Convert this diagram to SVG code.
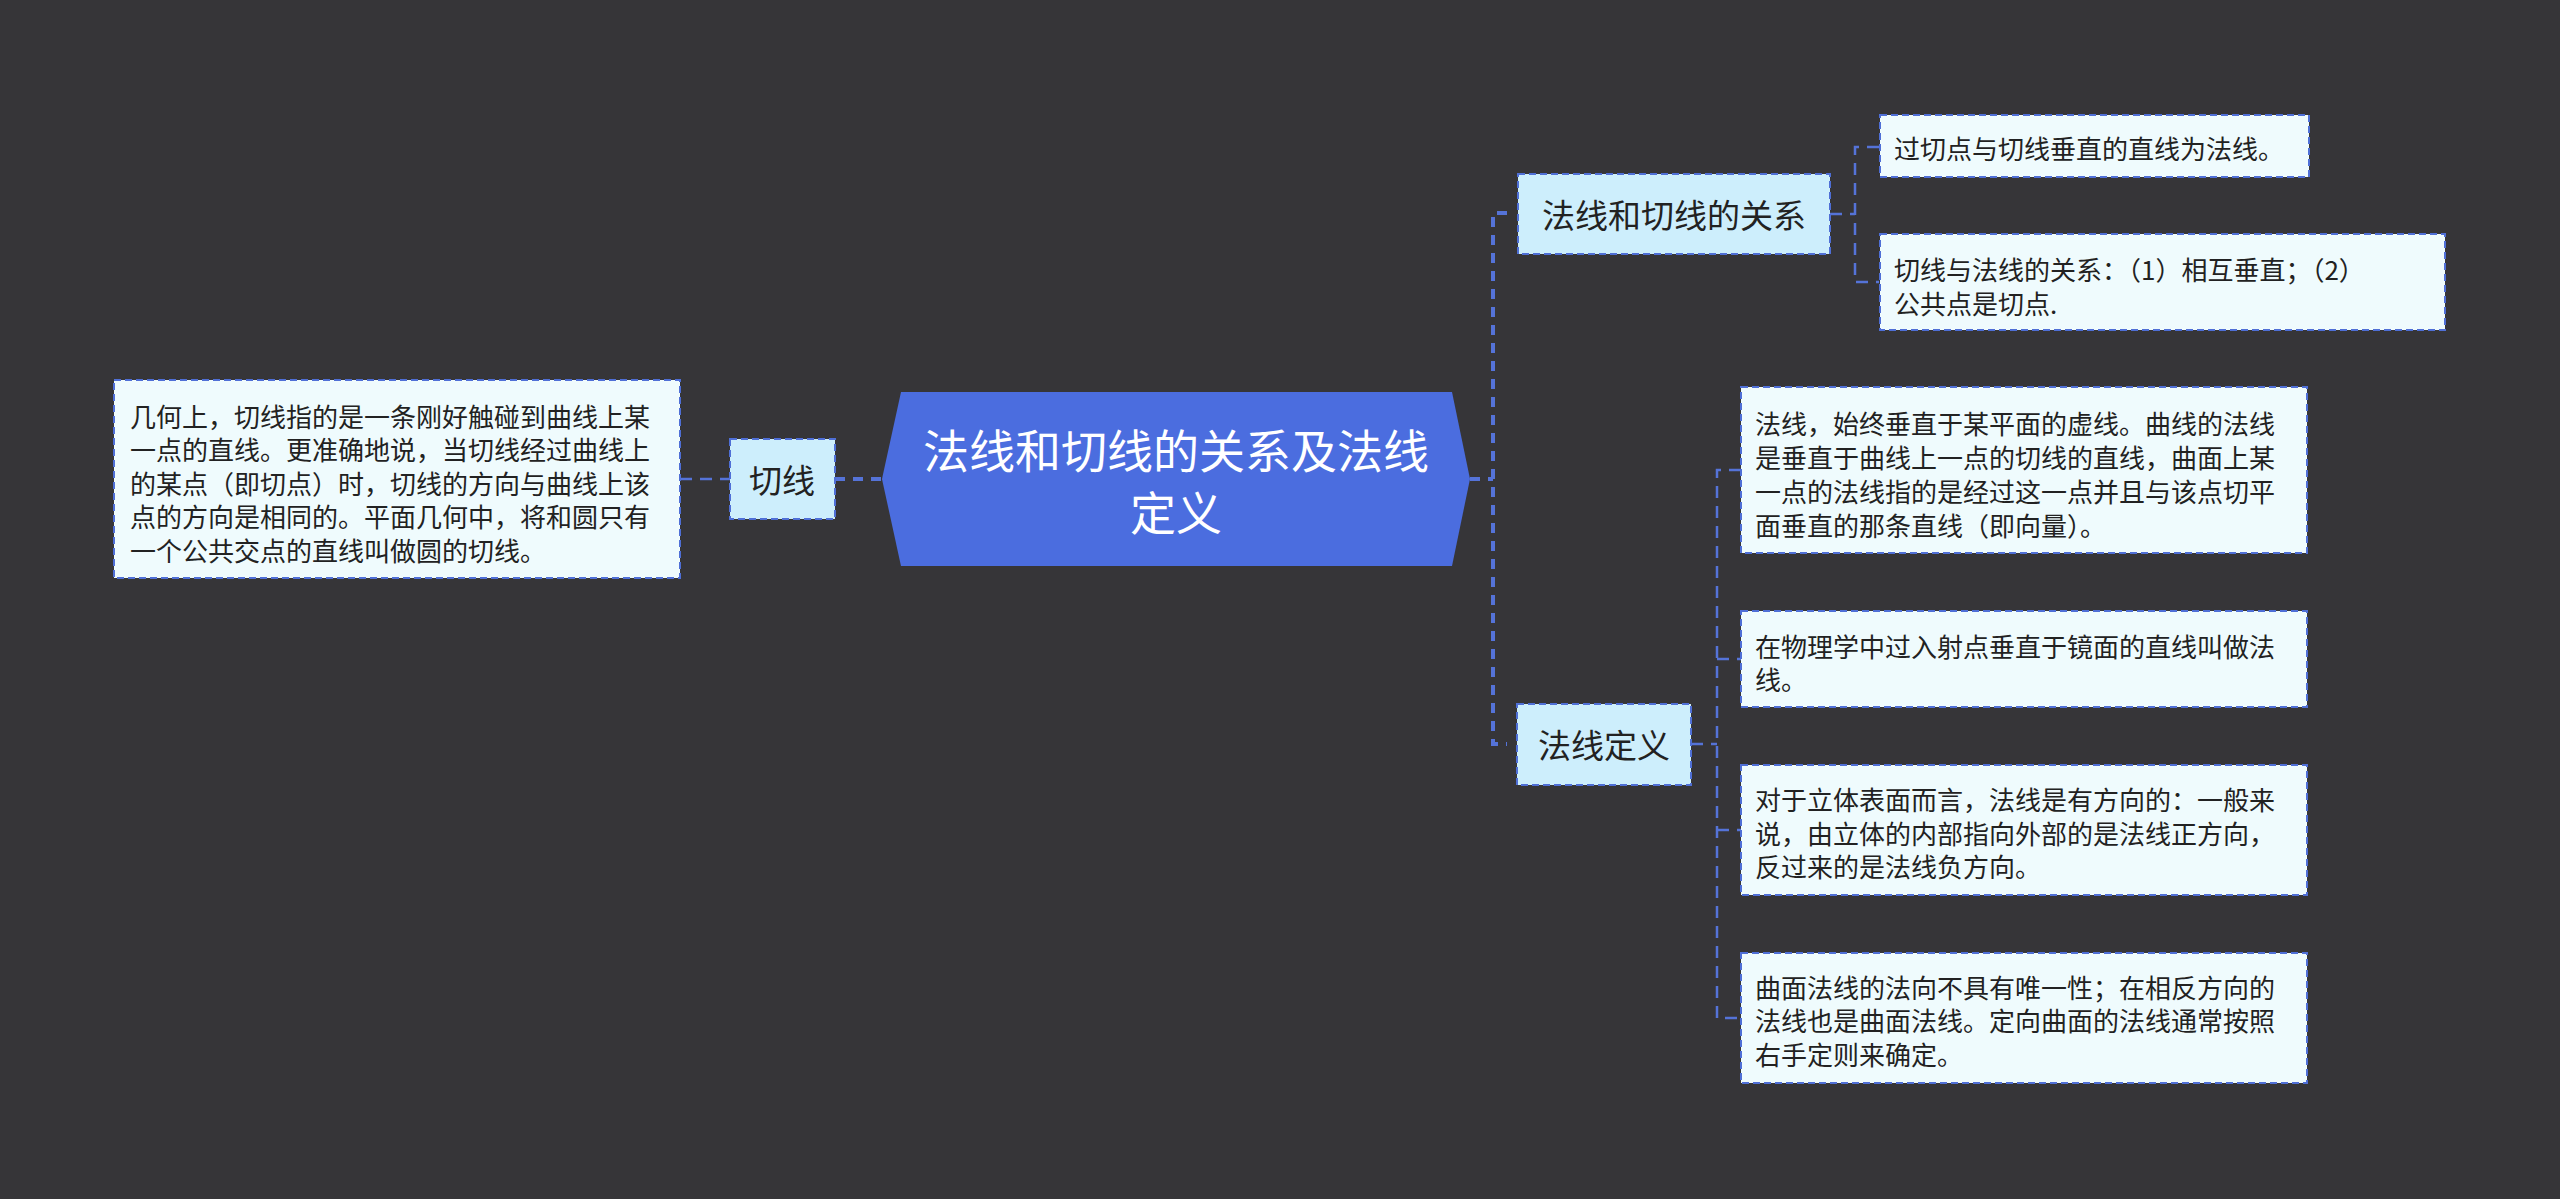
<svg xmlns="http://www.w3.org/2000/svg" width="2560" height="1199" viewBox="0 0 2560 1199">
<style>
text{font-family:"Noto Sans CJK SC","Noto Sans",sans-serif;dominant-baseline:central}
.leaf rect{fill:#effbfd;stroke:#4f6fd6;stroke-width:2;stroke-dasharray:7 4}
.leaf text{font-size:26px;fill:#222}
.sub rect{fill:#cdeefc;stroke:#4f6fd6;stroke-width:2;stroke-dasharray:7 4}
.sub text{font-size:33px;fill:#222;text-anchor:middle}
.c1{fill:none;stroke:#5573d8;stroke-width:4;stroke-dasharray:10 8}
.c2{fill:none;stroke:#5573d8;stroke-width:2.5;stroke-dasharray:12 8}
</style>
<rect width="2560" height="1199" fill="#363538"/>
<g id="connectors">
<path class="c2" d="M680,479 H730"/>
<path class="c1" d="M835,479 H882" stroke-dasharray="14 4 300"/>
<path class="c1" d="M1470,479 H1493"/>
<path class="c1" d="M1507,213 H1493 V744 H1507"/>
<path class="c2" d="M1830,214 H1855"/>
<path class="c2" d="M1879,147 H1855 V282 H1879"/>
<path class="c2" d="M1691,744 H1717"/>
<path class="c2" d="M1741,470 H1717 V1018 H1741"/>
<path class="c2" d="M1717,659 H1741"/>
<path class="c2" d="M1717,830 H1741"/>
</g>
<g id="root">
<polygon points="882,479 901,392 1452,392 1470,479 1452,566 901,566" fill="#4b6ddf"/>
<text x="1176" y="448" font-size="46" fill="#fff" text-anchor="middle">法线和切线的关系及法线</text>
<text x="1176" y="510" font-size="46" fill="#fff" text-anchor="middle">定义</text>
</g>
<g id="n-qiexian" class="sub">
<rect x="730" y="439" width="105" height="80"/>
<text x="782" y="479">切线</text>
</g>
<g id="leaf-qiexian" class="leaf">
<rect x="114" y="380" width="566" height="198"/>
<text x="130" y="415">几何上，切线指的是一条刚好触碰到曲线上某</text>
<text x="130" y="448">一点的直线。更准确地说，当切线经过曲线上</text>
<text x="130" y="482">的某点（即切点）时，切线的方向与曲线上该</text>
<text x="130" y="515">点的方向是相同的。平面几何中，将和圆只有</text>
<text x="130" y="549">一个公共交点的直线叫做圆的切线。</text>
</g>
<g id="n-guanxi" class="sub">
<rect x="1518" y="174" width="312" height="80"/>
<text x="1674" y="214">法线和切线的关系</text>
</g>
<g id="leaf-g1" class="leaf">
<rect x="1880" y="115" width="429" height="62"/>
<text x="1894" y="147">过切点与切线垂直的直线为法线。</text>
</g>
<g id="leaf-g2" class="leaf">
<rect x="1880" y="234" width="565" height="96"/>
<text x="1894" y="268">切线与法线的关系：（1）相互垂直；（2）</text>
<text x="1894" y="302">公共点是切点.</text>
</g>
<g id="n-dingyi" class="sub">
<rect x="1517" y="704" width="174" height="81"/>
<text x="1604" y="744">法线定义</text>
</g>
<g id="leaf-d1" class="leaf">
<rect x="1741" y="387" width="566" height="166"/>
<text x="1755" y="422">法线，始终垂直于某平面的虚线。曲线的法线</text>
<text x="1755" y="456">是垂直于曲线上一点的切线的直线，曲面上某</text>
<text x="1755" y="490">一点的法线指的是经过这一点并且与该点切平</text>
<text x="1755" y="524">面垂直的那条直线（即向量）。</text>
</g>
<g id="leaf-d2" class="leaf">
<rect x="1741" y="611" width="566" height="96"/>
<text x="1755" y="645">在物理学中过入射点垂直于镜面的直线叫做法</text>
<text x="1755" y="678">线。</text>
</g>
<g id="leaf-d3" class="leaf">
<rect x="1741" y="765" width="566" height="130"/>
<text x="1755" y="798">对于立体表面而言，法线是有方向的：一般来</text>
<text x="1755" y="832">说，由立体的内部指向外部的是法线正方向，</text>
<text x="1755" y="865">反过来的是法线负方向。</text>
</g>
<g id="leaf-d4" class="leaf">
<rect x="1741" y="953" width="566" height="130"/>
<text x="1755" y="986">曲面法线的法向不具有唯一性；在相反方向的</text>
<text x="1755" y="1019">法线也是曲面法线。定向曲面的法线通常按照</text>
<text x="1755" y="1053">右手定则来确定。</text>
</g>
</svg>
